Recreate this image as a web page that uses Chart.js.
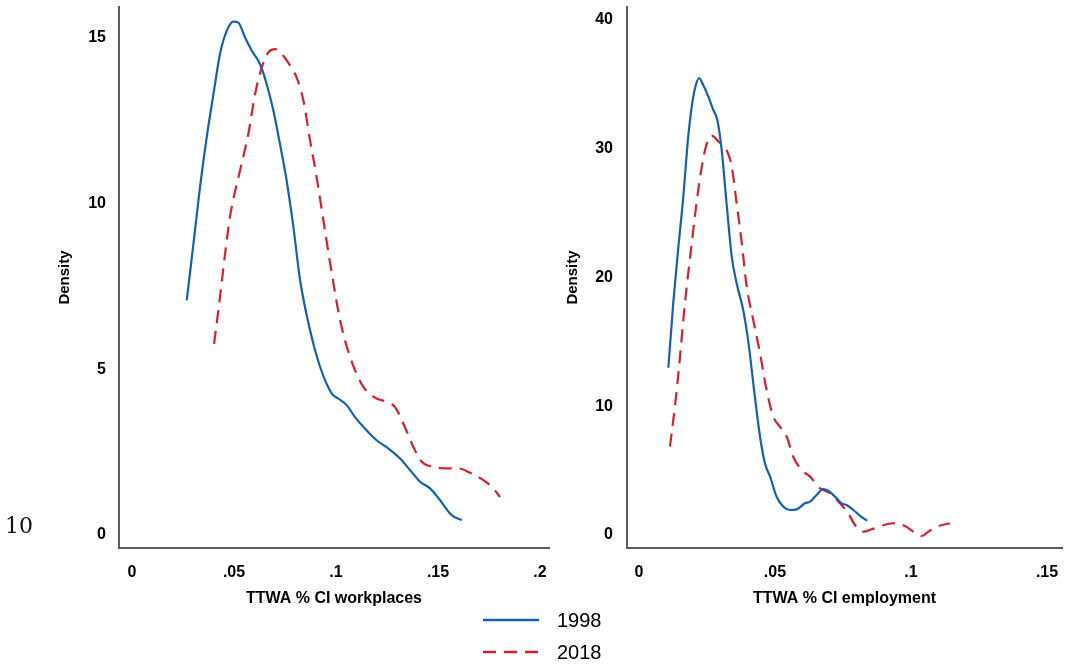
<!DOCTYPE html>
<html>
<head>
<meta charset="utf-8">
<script src="https://cdn.jsdelivr.net/npm/chart.js@4.4.1/dist/chart.umd.min.js"></script>
<style>
html, body { margin: 0; padding: 0; background: #fff; }
#wrap { position: relative; width: 1065px; height: 666px; overflow: hidden; }
canvas { position: absolute; left: 0; top: 0; }
#page { position: absolute; left: 5px; top: 515px; font-family: 'DejaVu Serif', serif; font-size: 22px; line-height: 22px; color: #111; }
</style>
</head>
<body>
<div id="wrap">
  <canvas id="left" width="1065" height="666"></canvas>
  <canvas id="right" width="1065" height="666"></canvas>
  <div id="page">10</div>
</div>
<script>
// series names
const seriesNames = ['1998', '2018'];

// left panel: TTWA % CI workplaces
const xTicksL = [0, 0.05, 0.1, 0.15, 0.2];
const xLabelsL = ['0', '.05', '.1', '.15', '.2'];
const yTicksL = [0, 5, 10, 15];

const wpX1998 = [0.0268, 0.0301, 0.0333, 0.0366, 0.0399, 0.0431, 0.0464, 0.0497, 0.0521, 0.0554, 0.0587, 0.0627,
  0.0660, 0.0693, 0.0725, 0.0758, 0.0791, 0.0824, 0.0873, 0.0922, 0.0979, 0.1011, 0.1052, 0.1093,
  0.1150, 0.1199, 0.1257, 0.1314, 0.1363, 0.1412, 0.1461, 0.1510, 0.1567, 0.1616];
const wpY1998 = [7.08, 8.79, 10.49, 12.00, 13.30, 14.51, 15.21, 15.49, 15.46, 15.01, 14.61, 14.21,
  13.60, 12.80, 11.80, 10.69, 9.29, 7.68, 6.17, 5.07, 4.27, 4.12, 3.92, 3.56,
  3.16, 2.86, 2.61, 2.31, 1.96, 1.61, 1.41, 1.05, 0.60, 0.45];

const wpX2018 = [0.0402, 0.0423, 0.0480, 0.0529, 0.0570, 0.0603, 0.0636, 0.0668, 0.0701, 0.0734, 0.0775,
  0.0807, 0.0840, 0.0873, 0.0905, 0.0938, 0.0979, 0.1020, 0.1069, 0.1134, 0.1199, 0.1248, 0.1289, 0.1330, 0.1379,
  0.1420, 0.1477, 0.1542, 0.1600, 0.1657, 0.1722, 0.1763, 0.1804];
const wpY2018 = [5.77, 6.78, 9.59, 10.99, 12.10, 13.30, 14.11, 14.56, 14.66, 14.51, 14.16,
  13.80, 13.10, 11.90, 10.79, 9.49, 7.90, 6.48, 5.37, 4.47, 4.12, 4.02, 3.86, 3.36, 2.66,
  2.21, 2.06, 2.01, 2.01, 1.88, 1.66, 1.46, 1.15];

// right panel: TTWA % CI employment
const xTicksR = [0, 0.05, 0.1, 0.15];
const xLabelsR = ['0', '.05', '.1', '.15'];
const yTicksR = [0, 10, 20, 30, 40];

const emX1998 = [0.0108, 0.0126, 0.0145, 0.0163, 0.0181, 0.0194, 0.0206, 0.0221, 0.0236, 0.0255, 0.0273, 0.0288,
  0.0304, 0.0322, 0.0341, 0.0359, 0.0383, 0.0402, 0.0426, 0.0445, 0.0463, 0.0482, 0.0506,
  0.0531, 0.0555, 0.0580, 0.0610, 0.0629, 0.0653, 0.0678, 0.0696, 0.0721, 0.0745, 0.0763, 0.0788, 0.0813, 0.0839];
const emY1998 = [13.0, 18.0, 22.39, 26.28, 30.94, 33.27, 34.69, 35.47, 34.95, 34.04, 33.01, 32.23,
  29.90, 25.76, 21.62, 19.55, 17.48, 15.0, 10.74, 7.63, 5.57, 4.53, 2.97,
  2.20, 1.94, 1.99, 2.46, 2.59, 3.11, 3.57, 3.44, 2.97, 2.46, 2.33, 1.94, 1.48, 1.11];

const emX2018 = [0.0114, 0.0132, 0.0145, 0.0169, 0.0194, 0.0218, 0.0243, 0.0267, 0.0292, 0.0322, 0.0341, 0.0359,
  0.0378, 0.0396, 0.0420, 0.0445, 0.0469, 0.0494, 0.0518, 0.0543, 0.0567, 0.0598,
  0.0629, 0.0665, 0.0702, 0.0739, 0.0769, 0.0794, 0.0825, 0.0855, 0.0892, 0.0935, 0.0978, 0.1008, 0.1039, 0.1064,
  0.1094, 0.1143];
const emY2018 = [6.86, 9.97, 12.56, 18.0, 22.66, 26.80, 29.90, 31.01, 30.55, 29.90, 28.61, 25.76,
  22.66, 19.29, 16.70, 14.11, 11.26, 9.19, 8.41, 7.63, 6.08, 5.05,
  4.53, 3.63, 3.24, 2.46, 1.69, 0.78, 0.26, 0.44, 0.72, 0.91, 0.70, 0.26, -0.08, 0.26,
  0.64, 0.91];

const blue = '#1561b0';
const red = '#d81f30';
const axisColor = '#5c5c5c';
const fontFamily = '"Liberation Sans", Arial, sans-serif';

function pts(xs, ys) {
  return xs.map((x, i) => ({ x: x, y: ys[i] }));
}

function lines(x1, y1, x2, y2) {
  return [
    { label: seriesNames[0], data: pts(x1, y1), borderColor: blue, borderWidth: 2.2,
      cubicInterpolationMode: 'monotone', pointRadius: 0, fill: false },
    { label: seriesNames[1], data: pts(x2, y2), borderColor: red, borderWidth: 2.2, borderDash: [13, 8],
      cubicInterpolationMode: 'monotone', pointRadius: 0, fill: false }
  ];
}

// stacked legend under the panels
const legendBox = {
  id: 'legendBox',
  afterDraw(chart) {
    const ctx = chart.ctx;
    ctx.save();
    chart.data.datasets.forEach((d, i) => {
      const y = 620 + i * 32;
      ctx.strokeStyle = d.borderColor;
      ctx.lineWidth = 2.5;
      ctx.setLineDash(d.borderDash || []);
      ctx.beginPath();
      ctx.moveTo(483, y);
      ctx.lineTo(539, y);
      ctx.stroke();
      ctx.setLineDash([]);
      ctx.fillStyle = '#000';
      ctx.font = '20px ' + fontFamily;
      ctx.textBaseline = 'middle';
      ctx.fillText(d.label, 557, y + 1);
    });
    ctx.restore();
  }
};

function makeOptions(o) {
  return {
    responsive: false,
    animation: false,
    layout: { padding: { left: o.padLeft, right: o.padRight, top: 7, bottom: 58 } },
    plugins: { legend: { display: false }, tooltip: { enabled: false } },
    scales: {
      x: {
        type: 'linear', min: o.xMin, max: o.xMax,
        grid: { display: false, drawTicks: false },
        border: { display: true, color: axisColor, width: 2 },
        afterBuildTicks: s => { s.ticks = o.xTicks.map(v => ({ value: v })); },
        afterFit: s => { s.height = 60; s.paddingLeft = 0; s.paddingRight = 0; },
        ticks: {
          autoSkip: false, maxRotation: 0, padding: 15, color: '#000',
          font: { family: fontFamily, size: 16, weight: 'bold' },
          callback: v => o.xLabels[o.xTicks.indexOf(v)]
        },
        title: { display: true, text: o.xTitle, color: '#000', padding: { top: 3, bottom: 0 },
          font: { family: fontFamily, size: 16, weight: 'bold' } }
      },
      y: {
        type: 'linear', min: o.yMin, max: o.yMax,
        grid: { display: false, drawTicks: false },
        border: { display: true, color: axisColor, width: 2 },
        afterBuildTicks: s => { s.ticks = o.yTicks.map(v => ({ value: v })); },
        afterFit: s => { s.width = o.yWidth; s.paddingTop = 0; s.paddingBottom = 0; },
        ticks: {
          padding: o.yPad, color: '#000',
          font: { family: fontFamily, size: 16, weight: 'bold' },
          callback: v => String(v)
        },
        title: { display: true, text: 'Density', color: '#000', padding: { top: 0, bottom: 0 },
          font: { family: fontFamily, size: 15, weight: 'bold' } }
      }
    }
  };
}

new Chart(document.getElementById('left'), {
  type: 'line',
  data: { datasets: lines(wpX1998, wpY1998, wpX2018, wpY2018) },
  options: makeOptions({
    padLeft: 56, padRight: 516, yWidth: 63, yPad: 13,
    xMin: -0.0064, xMax: 0.2044, yMin: -0.39, yMax: 15.93,
    xTicks: xTicksL, xLabels: xLabelsL, yTicks: yTicksL,
    xTitle: 'TTWA % CI workplaces'
  }),
  plugins: [legendBox]
});

new Chart(document.getElementById('right'), {
  type: 'line',
  data: { datasets: lines(emX1998, emY1998, emX2018, emY2018) },
  options: makeOptions({
    padLeft: 564, padRight: 3, yWidth: 63, yPad: 14,
    xMin: -0.0044, xMax: 0.1555, yMin: -1.01, yMax: 41.0,
    xTicks: xTicksR, xLabels: xLabelsR, yTicks: yTicksR,
    xTitle: 'TTWA % CI employment'
  })
});
</script>
</body>
</html>
